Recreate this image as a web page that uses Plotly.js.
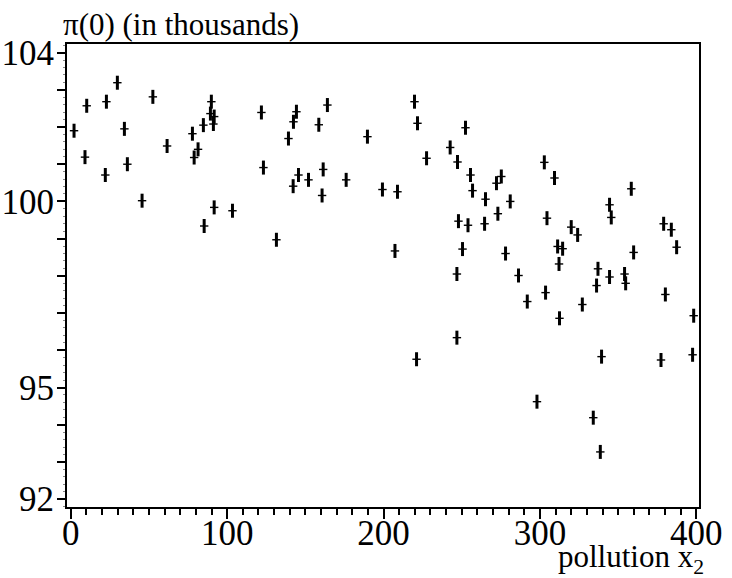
<!DOCTYPE html>
<html>
<head>
<meta charset="utf-8">
<script src="https://cdn.plot.ly/plotly-3.0.1.min.js"></script>
<style>html,body{margin:0;padding:0;background:#fff;}#chart{width:732px;height:578px;}</style>
</head>
<body>
<div id="chart"></div>
<script>
// pollution x2 values
var pollution = [2.1, 10.2, 9.1, 22.8, 22.1, 29.8, 34.3, 36.2, 45.6, 52.5,
  61.6, 77.8, 78.9, 81.4, 84.8, 85.3, 89.9, 89.3, 91.7, 91.2,
  91.7, 103.4, 121.9, 123.2, 131.5, 139.2, 142.2, 142.4, 144.3, 145.6,
  152.0, 158.6, 160.7, 161.4, 164.1, 176.1, 189.7, 199.3, 207.3, 208.9,
  219.8, 221.7, 221.1, 227.5, 242.6, 247.3, 246.9, 246.9, 247.9, 250.5,
  252.4, 254.0, 255.6, 256.9, 265.2, 264.6, 272.2, 273.1, 275.3, 278.0,
  281.0, 286.3, 291.9, 298.1, 303.6, 302.8, 304.5, 309.3, 311.3, 312.2,
  312.5, 314.5, 320.0, 324.1, 327.1, 334.1, 336.2, 337.1, 338.6, 339.4,
  344.5, 344.5, 345.6, 354.1, 354.8, 358.4, 359.9, 379.1, 384.0, 387.4,
  380.2, 398.3, 377.4, 397.6];
// pi(0) in thousands
var price = [101.90, 102.57, 101.19, 102.68, 100.71, 103.19, 101.95, 101.00, 100.02, 102.81,
  101.49, 101.82, 101.18, 101.40, 102.05, 99.34, 102.68, 102.36, 102.28, 102.08,
  99.84, 99.75, 102.39, 100.91, 98.97, 101.69, 100.41, 102.14, 102.41, 100.71,
  100.58, 102.06, 100.16, 100.86, 102.59, 100.58, 101.74, 100.32, 98.67, 100.26,
  102.68, 102.10, 95.76, 101.16, 101.45, 101.06, 96.34, 98.05, 99.47, 98.72,
  101.98, 99.36, 100.71, 100.29, 100.06, 99.40, 100.49, 99.67, 100.67, 98.60,
  100.00, 98.01, 97.31, 94.62, 97.55, 101.05, 99.55, 100.63, 98.79, 98.32,
  96.86, 98.73, 99.31, 99.10, 97.23, 94.19, 97.74, 98.19, 93.27, 95.83,
  97.97, 99.91, 99.57, 98.05, 97.80, 100.34, 98.63, 99.40, 99.24, 98.77,
  97.50, 96.93, 95.74, 95.88];

var yTickVals = [92, 93, 94, 95, 96, 97, 98, 99, 100, 101, 102, 103, 104];
var yTickText = ['92', '', '', '95', '', '', '', '', '100', '', '', '', '104'];
var xTickVals = [0, 100, 200, 300, 400];
var xTickText = ['0', '100', '200', '300', '400'];

var serif = '"Times New Roman", "Liberation Serif", Times, serif';

var traces = [
  {x: pollution, y: price, type: 'scatter', mode: 'markers', hoverinfo: 'skip',
   marker: {symbol: 'line-ns-open', size: 10, color: '#000', line: {color: '#000', width: 3}}},
  {x: pollution, y: price, type: 'scatter', mode: 'markers', hoverinfo: 'skip',
   marker: {symbol: 'line-ew-open', size: 6, color: '#000', line: {color: '#000', width: 1.4}}}
];

var layout = {
  width: 732, height: 578,
  margin: {l: 67, r: 33, t: 44, b: 71, pad: 0},
  paper_bgcolor: '#fff', plot_bgcolor: '#fff',
  showlegend: false,
  font: {family: serif, color: '#000', size: 35},
  xaxis: {
    range: [-2.4, 401.7], showgrid: false, zeroline: false,
    showline: true, mirror: true, linecolor: '#000', linewidth: 2,
    tickmode: 'array', tickvals: xTickVals, ticktext: xTickText,
    ticks: 'outside', ticklen: 10, tickwidth: 2, tickcolor: '#000',
    ticklabelstandoff: -16,
    minor: {dtick: 10, tick0: 0, ticks: 'outside', ticklen: 6, tickwidth: 2, tickcolor: '#000'},
    tickfont: {family: serif, size: 35, color: '#000'}
  },
  yaxis: {
    range: [91.79, 104.23], showgrid: false, zeroline: false,
    showline: true, mirror: true, linecolor: '#000', linewidth: 2,
    tickmode: 'array', tickvals: yTickVals, ticktext: yTickText,
    ticks: 'outside', ticklen: 8, tickwidth: 2, tickcolor: '#000',
    ticklabelstandoff: -4,
    minor: {dtick: 0.2, tick0: 92, ticks: 'outside', ticklen: 2, tickwidth: 1, tickcolor: '#888'},
    tickfont: {family: serif, size: 35, color: '#000'}
  },
  annotations: [
    {text: 'π(0) (in thousands)', xref: 'paper', yref: 'paper',
     x: -6/632, y: 1, xanchor: 'left', yanchor: 'bottom', yshift: 0, showarrow: false,
     font: {family: serif, size: 31, color: '#000'}},
    {text: 'pollution x<sub>2</sub>', xref: 'paper', yref: 'paper',
     x: 1 + 7/632, y: -74/463, xanchor: 'right', yanchor: 'bottom', showarrow: false,
     font: {family: serif, size: 31, color: '#000'}}
  ]
};

Plotly.newPlot('chart', traces, layout, {staticPlot: true, displayModeBar: false});
</script>
</body>
</html>
